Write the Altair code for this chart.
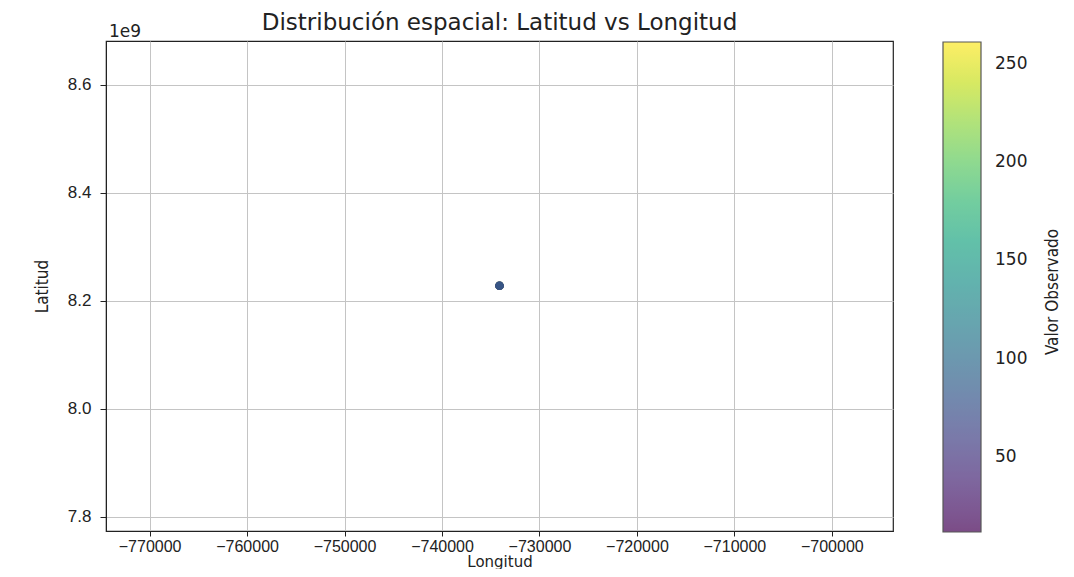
import altair as alt
import pandas as pd

# Data (all observations share the same location)
longitud = [-734100, -734100, -734100, -734100, -734100, -734100]
latitud = [8.228e9, 8.228e9, 8.228e9, 8.228e9, 8.228e9, 8.228e9]
valor = [261, 180, 120, 12, 40, 95]

x_ticks = [-770000, -760000, -750000, -740000, -730000, -720000, -710000, -700000]
y_ticks = [7.8e9, 8.0e9, 8.2e9, 8.4e9, 8.6e9]
c_ticks = [50, 100, 150, 200, 250]
x_domain = [-774476, -693724]
y_domain = [7.7735e9, 8.6815e9]
c_domain = [12, 261]

df = pd.DataFrame({"Longitud": longitud, "Latitud": latitud, "Valor Observado": valor})

LABEL_FONT = "DejaVu Sans"
COND_FONT = "DejaVu Sans Condensed, Liberation Sans Narrow, sans-serif"

points = alt.Chart(df).mark_circle(size=75, opacity=0.7).encode(
    x=alt.X(
        "Longitud:Q",
        scale=alt.Scale(domain=x_domain, nice=False, zero=False),
        axis=alt.Axis(
            values=x_ticks, format="d", title="Longitud", labelOverlap=False,
            labelBound=False, labelFlush=False, labelFontSize=16, labelPadding=2,
            tickSize=5, titleFontSize=15, titleFont=LABEL_FONT,
            titleBaseline="alphabetic", titleY=35,
        ),
    ),
    y=alt.Y(
        "Latitud:Q",
        scale=alt.Scale(domain=y_domain, nice=False, zero=False),
        axis=alt.Axis(
            values=y_ticks, labelExpr="format(datum.value / 1e9, '.1f')",
            title="Latitud", labelFontSize=17, titleFont=COND_FONT,
            titleFontSize=17, titlePadding=16, labelPadding=9, tickSize=6,
        ),
    ),
    color=alt.Color(
        "Valor Observado:Q",
        title="",
        scale=alt.Scale(scheme="viridis", domain=c_domain, nice=False, zero=False),
        legend=alt.Legend(
            orient="none", legendX=837, legendY=1, direction="vertical",
            gradientLength=490, gradientThickness=38, values=c_ticks,
            gradientOpacity=0.7, gradientStrokeColor="#111", gradientStrokeWidth=1.2,
            labelFontSize=17, labelFont=LABEL_FONT, labelOffset=14, labelColor="#222",
            padding=0,
        ),
    ),
)

exp_label = alt.Chart(pd.DataFrame({"t": ["1e9"]})).mark_text(
    align="left", baseline="alphabetic", fontSize=17, font=LABEL_FONT, color="#222"
).encode(text="t:N", x=alt.value(3), y=alt.value(-4))

main_title = alt.Chart(pd.DataFrame({"t": ["Distribución espacial: Latitud vs Longitud"]})).mark_text(
    align="center", baseline="alphabetic", fontSize=23, font=LABEL_FONT, color="#222"
).encode(text="t:N", x=alt.value(393.5), y=alt.value(-11))

cbar_title = alt.Chart(pd.DataFrame({"t": ["Valor Observado"]})).mark_text(
    align="center", baseline="middle", fontSize=17, font=COND_FONT, color="#222", angle=270
).encode(text="t:N", x=alt.value(947), y=alt.value(251))

chart = alt.layer(points, exp_label, main_title, cbar_title).properties(
    width=787, height=490,
    padding={"left": 98, "top": 33, "right": 173, "bottom": 38},
    autosize=alt.AutoSizeParams(type="none"),
).configure_view(
    stroke="#222", strokeWidth=1.2
).configure_axis(
    gridColor="#c4c4c4", gridWidth=1, domainColor="#222", tickColor="#222",
    labelColor="#222", titleColor="#222", titleFontWeight="normal",
    domain=True,
)

chart.save("out.html", embed_options={"renderer": "svg", "actions": False})
